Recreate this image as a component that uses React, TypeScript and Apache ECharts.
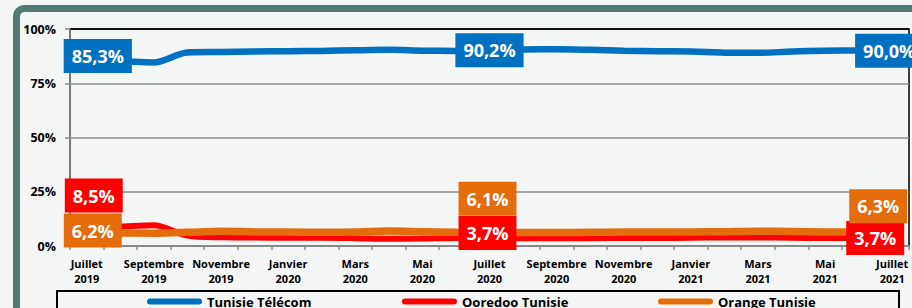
import React, { useEffect, useRef } from "react";
import * as echarts from "echarts";

const months = [
  "Juillet\n2019", "Août\n2019", "Septembre\n2019", "Octobre\n2019", "Novembre\n2019", "Décembre\n2019",
  "Janvier\n2020", "Février\n2020", "Mars\n2020", "Avril\n2020", "Mai\n2020", "Juin\n2020",
  "Juillet\n2020", "Août\n2020", "Septembre\n2020", "Octobre\n2020", "Novembre\n2020", "Décembre\n2020",
  "Janvier\n2021", "Février\n2021", "Mars\n2021", "Avril\n2021", "Mai\n2021", "Juin\n2021",
  "Juillet\n2021",
];

const tunisieTelecom = [85.3, 85.1, 84.6, 89.2, 89.4, 89.6, 89.8, 89.9, 90.2, 90.4, 90.0, 89.9, 90.2, 90.6, 90.7, 90.4, 90.0, 89.8, 89.6, 89.1, 89.0, 89.6, 90.0, 90.1, 90.0];
const ooredoo = [8.5, 9.0, 9.6, 4.8, 4.0, 3.9, 3.8, 3.8, 3.6, 3.3, 3.4, 3.7, 3.7, 3.6, 3.6, 3.6, 3.7, 3.7, 3.8, 3.9, 3.9, 3.8, 3.7, 3.7, 3.7];
const orange = [6.2, 6.0, 5.9, 6.3, 6.8, 6.5, 6.4, 6.3, 6.4, 6.9, 6.6, 6.3, 6.1, 6.2, 6.2, 6.3, 6.4, 6.4, 6.5, 6.6, 6.8, 6.7, 6.5, 6.4, 6.3];

const seriesNames = ["Tunisie Télécom", "Ooredoo Tunisie", "Orange Tunisie"];
const yTicks = [0, 25, 50, 75, 100];
const labeledIdx = [0, 12, 24];

const COLORS = ["#0070c0", "#ff0000", "#e46c0a"];
const FONT = "'Open Sans', 'DejaVu Sans', sans-serif";

const fmt = (v: number) => v.toFixed(1).replace(".", ",") + "%";

function buildData(values: number[], color: string, offsets: number[][]) {
  return values.map((v, i) => {
    const k = labeledIdx.indexOf(i);
    if (k < 0) return v;
    return {
      value: v,
      label: {
        show: true,
        position: "inside",
        offset: offsets[k],
        formatter: () => fmt(v),
        backgroundColor: color,
        color: "#ffffff",
        fontFamily: FONT,
        fontWeight: "bold",
        fontSize: 18,
        lineHeight: 20,
        padding: [7, 8, 7, 8],
      },
    };
  });
}

export default function App() {
  const ref = useRef<HTMLDivElement>(null);
  useEffect(() => {
    if (!ref.current) return;
    const chart = echarts.init(ref.current, undefined, { renderer: "svg" });
    const legendIcon = "path://M3,0 H52 A3,3 0 0 1 52,6 H3 A3,3 0 0 1 3,0 Z";
    const legendText = { fontFamily: FONT, fontWeight: "bold", fontSize: 13, color: "#000" };
    const legendLefts = [147, 402, 658];
    chart.setOption({
      animation: false,
      backgroundColor: "#f4f6f5",
      grid: {
        left: 70, right: 3, top: 29, bottom: 62,
        show: true, borderColor: "#000", borderWidth: 1.5, backgroundColor: "transparent",
      },
      legend: seriesNames.map((n, i) => ({
        data: [n],
        left: legendLefts[i],
        top: 295,
        padding: 0,
        icon: legendIcon,
        itemWidth: 55,
        itemHeight: 6,
        itemGap: 3,
        textStyle: legendText,
        selectedMode: false,
      })),
      xAxis: {
        type: "category",
        data: months,
        boundaryGap: true,
        axisLine: { lineStyle: { color: "#8c8c8c", width: 1.5 } },
        axisTick: { show: true, interval: 0, length: 4, lineStyle: { color: "#8c8c8c", width: 1.5 } },
        axisLabel: {
          interval: 1,
          margin: 10,
          color: "#000",
          fontFamily: FONT,
          fontWeight: "bold",
          fontSize: 11,
          lineHeight: 15,
        },
      },
      yAxis: {
        type: "value",
        min: yTicks[0],
        max: yTicks[yTicks.length - 1],
        interval: 25,
        axisLine: { show: true, lineStyle: { color: "#8c8c8c", width: 1.5 } },
        axisTick: { show: true, length: 5, lineStyle: { color: "#8c8c8c", width: 1.5 } },
        axisLabel: {
          formatter: "{value}%",
          margin: 14,
          color: "#000",
          fontFamily: FONT,
          fontWeight: "bold",
          fontSize: 12.5,
        },
        splitLine: {
          lineStyle: { color: ["#8c8c8c", "#8c8c8c", "#8c8c8c", "#8c8c8c", "#000"], width: 1.5 },
        },
      },
      graphic: [
        {
          type: "rect",
          shape: { x: 16.5, y: 8.5, width: 920, height: 320, r: 8 },
          style: { fill: "none", stroke: "#527973", lineWidth: 7 },
          silent: true,
          z: 0,
        },
        {
          type: "rect",
          shape: { x: 57, y: 291, width: 842, height: 30 },
          style: { fill: "none", stroke: "#000", lineWidth: 2 },
          silent: true,
          z: 0,
        },
      ],
      series: [
        {
          name: seriesNames[0],
          type: "line",
          smooth: 0.3,
          symbol: "circle",
          symbolSize: 1,
          showSymbol: true,
          itemStyle: { color: COLORS[0] },
          lineStyle: { color: COLORS[0], width: 6.5 },
          data: buildData(tunisieTelecom, COLORS[0], [[11, -5], [0, 0], [-3, 0]]),
          z: 3,
        },
        {
          name: seriesNames[1],
          type: "line",
          smooth: 0.3,
          symbol: "circle",
          symbolSize: 1,
          showSymbol: true,
          itemStyle: { color: COLORS[1] },
          lineStyle: { color: COLORS[1], width: 6 },
          data: buildData(ooredoo, COLORS[1], [[7, -32], [-2, -5], [-17, 0]]),
          z: 3,
        },
        {
          name: seriesNames[2],
          type: "line",
          smooth: 0.3,
          symbol: "circle",
          symbolSize: 1,
          showSymbol: true,
          itemStyle: { color: COLORS[2] },
          lineStyle: { color: COLORS[2], width: 7.5 },
          data: buildData(orange, COLORS[2], [[6, -2], [-2, -34], [-14, -26]]),
          z: 3,
        },
      ],
    });
    return () => chart.dispose();
  }, []);
  return (
    <div
      ref={ref}
      style={{ position: "fixed", left: 0, top: 0, width: 912, height: 308 }}
    />
  );
}
